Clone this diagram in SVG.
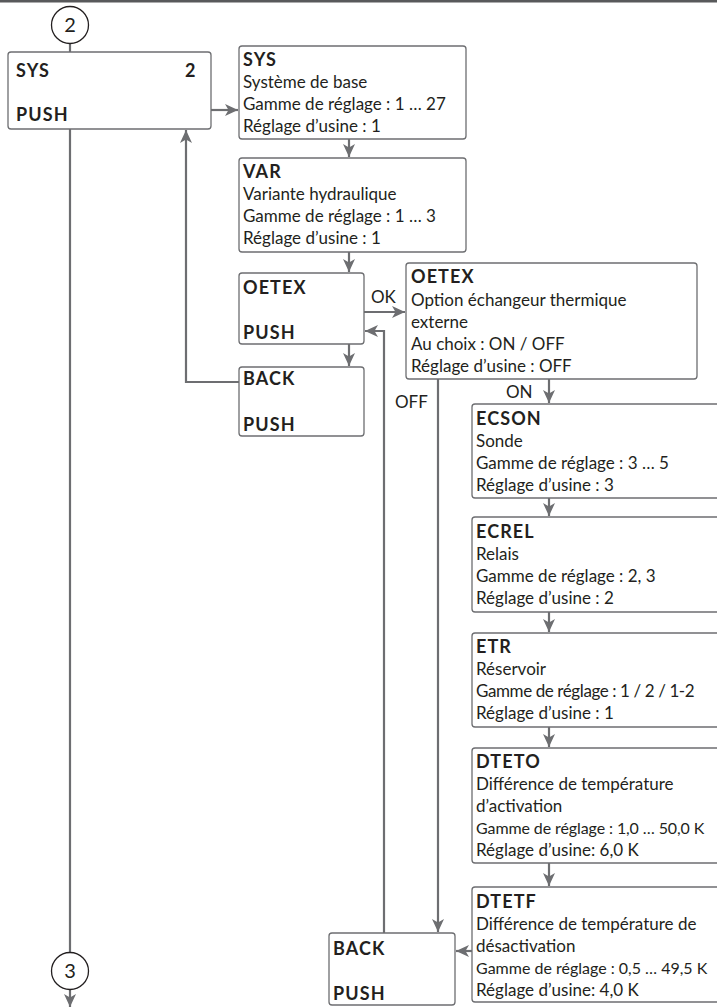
<svg xmlns="http://www.w3.org/2000/svg" width="717" height="1008" viewBox="0 0 717 1008">
<style>
.box{fill:#fff;stroke:#6d6e71;stroke-width:1.3}
.t{font-family:Lato,"Liberation Sans",sans-serif;font-size:17px;fill:#231f20}
.b{font-weight:bold;font-size:18px;letter-spacing:1.1px}
.n{font-size:20px}
.s{font-size:16px}
.c{fill:none;stroke:#6d6e71;stroke-width:2.2}
.circ{fill:#fff;stroke:#231f20;stroke-width:1.3}
</style>
<defs>
<marker id="ah" markerUnits="userSpaceOnUse" markerWidth="14" markerHeight="12" viewBox="0 0 14 12" refX="13" refY="6" orient="auto">
<path d="M0,0 L13,6 L0,12 L3.5,6 z" fill="#6d6e71"/>
</marker>
</defs>
<rect x="0" y="0" width="717" height="2.5" fill="#58595b"/>
<g id="connectors">
<path class="c" d="M70,43.5 V52"/>
<path class="c" d="M70,129 V952.5"/>
<path class="c" d="M70,989.5 V1007" marker-end="url(#ah)"/>
<path class="c" d="M211,110 H238" marker-end="url(#ah)"/>
<path class="c" d="M349,139 V157" marker-end="url(#ah)"/>
<path class="c" d="M349,252 V272" marker-end="url(#ah)"/>
<path class="c" d="M364,312 H405" marker-end="url(#ah)"/>
<path class="c" d="M349,344 V366" marker-end="url(#ah)"/>
<path class="c" d="M239,382 H186 V130" marker-end="url(#ah)"/>
<path class="c" d="M384,933 V331 H365" marker-end="url(#ah)"/>
<path class="c" d="M438,379 V932" marker-end="url(#ah)"/>
<path class="c" d="M549,379 V403" marker-end="url(#ah)"/>
<path class="c" d="M549,498 V516" marker-end="url(#ah)"/>
<path class="c" d="M549,612 V632" marker-end="url(#ah)"/>
<path class="c" d="M549,727 V747" marker-end="url(#ah)"/>
<path class="c" d="M549,863 V886" marker-end="url(#ah)"/>
<path class="c" d="M472,951 H456" marker-end="url(#ah)"/>
<text class="t" x="371" y="303">OK</text>
<text class="t" x="395" y="408">OFF</text>
<text class="t" x="506" y="398">ON</text>
</g>
<g id="c2"><circle class="circ" cx="70" cy="25" r="18.5"/><text class="t n" x="70" y="32" text-anchor="middle">2</text></g>
<g id="c3"><circle class="circ" cx="70" cy="971" r="18.5"/><text class="t n" x="70" y="978" text-anchor="middle">3</text></g>
<g id="sysL"><rect class="box" x="8" y="52" width="203" height="77" rx="3"/>
<text class="t b" x="16" y="77">SYS</text><text class="t b" x="185" y="77">2</text><text class="t b" x="16" y="121">PUSH</text></g>
<g id="sysR"><rect class="box" x="239" y="46" width="227" height="93" rx="3"/>
<text class="t b" x="243" y="66">SYS</text>
<text class="t" x="243" y="88">Système de base</text>
<text class="t" x="243" y="110">Gamme de réglage : 1 … 27</text>
<text class="t" x="243" y="132">Réglage d’usine : 1</text></g>
<g id="var"><rect class="box" x="239" y="158" width="227" height="94" rx="3"/>
<text class="t b" x="243" y="178">VAR</text>
<text class="t" x="243" y="200">Variante hydraulique</text>
<text class="t" x="243" y="222">Gamme de réglage : 1 … 3</text>
<text class="t" x="243" y="244">Réglage d’usine : 1</text></g>
<g id="oetexL"><rect class="box" x="239" y="273" width="125" height="71" rx="3"/>
<text class="t b" x="243" y="294">OETEX</text><text class="t b" x="243" y="339">PUSH</text></g>
<g id="backL"><rect class="box" x="239" y="367" width="125" height="69" rx="3"/>
<text class="t b" x="243" y="385">BACK</text><text class="t b" x="243" y="431">PUSH</text></g>
<g id="oetexR"><rect class="box" x="406" y="263" width="291" height="116" rx="3"/>
<text class="t b" x="411" y="283">OETEX</text>
<text class="t" x="411" y="306">Option échangeur thermique</text>
<text class="t" x="411" y="328">externe</text>
<text class="t" x="411" y="350">Au choix : ON / OFF</text>
<text class="t" x="411" y="372">Réglage d’usine : OFF</text></g>
<g id="ecson"><rect class="box" x="472" y="404" width="260" height="94" rx="3"/>
<text class="t b" x="476" y="425">ECSON</text>
<text class="t" x="476" y="447">Sonde</text>
<text class="t" x="476" y="469">Gamme de réglage : 3 … 5</text>
<text class="t" x="476" y="491">Réglage d’usine : 3</text></g>
<g id="ecrel"><rect class="box" x="472" y="517" width="260" height="95" rx="3"/>
<text class="t b" x="476" y="538">ECREL</text>
<text class="t" x="476" y="560">Relais</text>
<text class="t" x="476" y="582">Gamme de réglage : 2, 3</text>
<text class="t" x="476" y="604">Réglage d’usine : 2</text></g>
<g id="etr"><rect class="box" x="472" y="633" width="260" height="94" rx="3"/>
<text class="t b" x="476" y="653">ETR</text>
<text class="t" x="476" y="675">Réservoir</text>
<text class="t" x="476" y="697" letter-spacing="-0.4">Gamme de réglage : 1 / 2 / 1-2</text>
<text class="t" x="476" y="719">Réglage d’usine : 1</text></g>
<g id="dteto"><rect class="box" x="472" y="748" width="260" height="115" rx="3"/>
<text class="t b" x="476" y="768">DTETO</text>
<text class="t" x="476" y="790">Différence de température</text>
<text class="t" x="476" y="812">d’activation</text>
<text class="t s" x="476" y="834" letter-spacing="-0.1">Gamme de réglage : 1,0 … 50,0 K</text>
<text class="t" x="476" y="856">Réglage d’usine: 6,0 K</text></g>
<g id="dtetf"><rect class="box" x="472" y="887" width="260" height="115" rx="3"/>
<text class="t b" x="476" y="908">DTETF</text>
<text class="t" x="476" y="930">Différence de température de</text>
<text class="t" x="476" y="952">désactivation</text>
<text class="t s" x="476" y="974">Gamme de réglage : 0,5 … 49,5 K</text>
<text class="t" x="476" y="996">Réglage d’usine: 4,0 K</text></g>
<g id="backB"><rect class="box" x="329" y="933" width="126" height="72" rx="3"/>
<text class="t b" x="333" y="955">BACK</text><text class="t b" x="333" y="1000">PUSH</text></g>
</svg>
